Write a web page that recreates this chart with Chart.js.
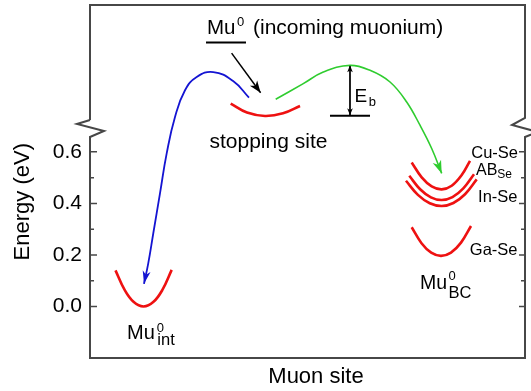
<!DOCTYPE html>
<html>
<head>
<meta charset="utf-8">
<script src="https://cdn.jsdelivr.net/npm/chart.js@4.4.1/dist/chart.umd.min.js"></script>
<style>
  html, body { margin: 0; padding: 0; background: #fff; }
</style>
</head>
<body>
<canvas id="chart" width="531" height="391"></canvas>
<script>
// schematic energy landscape: x = muon site coordinate (arbitrary, 0-100), y = energy (eV)
const FONT = 'Arial, "Liberation Sans", sans-serif';

const yMajorTicks = [0.0, 0.2, 0.4, 0.6];
const yMajorLabels = ['0.0', '0.2', '0.4', '0.6'];
const yMinorTicks = [0.1, 0.3, 0.5];

// red potential wells
const wellIntX = [5.86, 7.93, 10.0, 12.30, 14.6, 16.67, 18.78];
const wellIntE = [0.140, 0.065, 0.018, 0.0, 0.018, 0.065, 0.142];

const wellStopX = [32.34, 36.09, 40.23, 44.37, 48.28];
const wellStopE = [0.7875, 0.7526, 0.7394, 0.7495, 0.7782];

const wellCuX = [73.95, 76.25, 78.55, 80.85, 83.15, 85.45, 87.36];
const wellCuE = [0.5590, 0.5010, 0.4661, 0.4545, 0.4685, 0.5099, 0.5652];

const wellABX = [73.40, 75.89, 78.37, 80.85, 83.33, 85.82, 88.28];
const wellABE = [0.5072, 0.4549, 0.4235, 0.4131, 0.4243, 0.4580, 0.5132];

const wellInX = [72.64, 75.38, 78.11, 80.85, 83.54, 86.21, 88.90];
const wellInE = [0.4878, 0.4332, 0.4007, 0.3899, 0.4015, 0.4355, 0.4932];

const wellGaX = [73.95, 76.21, 78.44, 80.69, 82.99, 85.29, 87.59];
const wellGaE = [0.3074, 0.2455, 0.2087, 0.1963, 0.2091, 0.2478, 0.3124];

// blue path: stopping site -> interstitial
const pathIntX = [36.55, 32.90, 28.34, 24.53, 21.84, 19.54, 17.63, 16.09, 14.55, 13.40, 12.41];
const pathIntE = [0.8107, 0.8750, 0.9098, 0.8904, 0.8390, 0.7356, 0.5939, 0.4390, 0.2842, 0.1680, 0.0879];

// green path: stopping site -> bond centre
const pathBCX = [42.69, 49.03, 53.63, 59.77, 64.37, 68.97, 72.80, 75.86, 78.55, 80.85];
const pathBCE = [0.8041, 0.8649, 0.9098, 0.9357, 0.9164, 0.8711, 0.7937, 0.7034, 0.6132, 0.5165];

// incoming muonium level and arrow
const muLevelX = [26.67, 35.86];
const muLevelE = [1.0248, 1.0248];
const muArrowX = [32.55, 39.22];
const muArrowE = [0.9834, 0.8293];

// barrier E_b
const ebLevelX = [55.17, 64.37];
const ebLevelE = [0.7402, 0.7402];
const ebArrowX = [59.77, 59.77];
const ebArrowE = [0.9357, 0.7422];

function pts(xs, ys) {
    return xs.map((x, i) => ({ x: x, y: ys[i] }));
}

const RED = '#ee1111';
const BLUE = '#1414d2';
const GREEN = '#2fcc2f';

function curve(xs, ys, color, width, tension) {
    return {
        data: pts(xs, ys),
        showLine: true,
        borderColor: color,
        borderWidth: width,
        tension: tension,
        pointRadius: 0,
        fill: false
    };
}

const datasets = [
    curve(wellIntX, wellIntE, RED, 2.6, 0.4),
    curve(wellStopX, wellStopE, RED, 2.6, 0.4),
    curve(wellCuX, wellCuE, RED, 2.6, 0.4),
    curve(wellABX, wellABE, RED, 2.6, 0.4),
    curve(wellInX, wellInE, RED, 2.6, 0.4),
    curve(wellGaX, wellGaE, RED, 2.6, 0.4),
    curve(pathIntX, pathIntE, BLUE, 1.8, 0.45),
    curve(pathBCX, pathBCE, GREEN, 1.6, 0.4),
    curve(muLevelX, muLevelE, '#000', 2, 0),
    curve(muArrowX, muArrowE, '#000', 1.5, 0),
    curve(ebLevelX, ebLevelE, '#000', 2, 0),
    curve(ebArrowX, ebArrowE, '#000', 1, 0)
];

function arrowHead(ctx, x0, y0, x1, y1, len, half, color) {
    const a = Math.atan2(y1 - y0, x1 - x0);
    ctx.save();
    ctx.translate(x1, y1);
    ctx.rotate(a);
    ctx.beginPath();
    ctx.moveTo(0, 0);
    ctx.lineTo(-len, -half);
    ctx.lineTo(-len * 0.72, 0);
    ctx.lineTo(-len, half);
    ctx.closePath();
    ctx.fillStyle = color;
    ctx.fill();
    ctx.restore();
}

function txt(ctx, s, x, y, size, align) {
    ctx.font = size + 'px ' + FONT;
    ctx.textAlign = align || 'left';
    ctx.textBaseline = 'alphabetic';
    ctx.fillText(s, x, y);
    return ctx.measureText(s).width;
}

const decorations = {
    id: 'decorations',
    afterDatasetsDraw(chart) {
        const ctx = chart.ctx;
        const xs = chart.scales.x, ys = chart.scales.y;
        const px = v => xs.getPixelForValue(v);
        const py = v => ys.getPixelForValue(v);
        const tip = (X, E, i, j) => [px(X[i]), py(E[i]), px(X[j]), py(E[j])];

        let n = pathIntX.length;
        arrowHead(ctx, ...tip(pathIntX, pathIntE, n - 2, n - 1), 13, 4, BLUE);
        n = pathBCX.length;
        arrowHead(ctx, ...tip(pathBCX, pathBCE, n - 2, n - 1), 13, 4.5, GREEN);
        arrowHead(ctx, ...tip(muArrowX, muArrowE, 0, 1), 12, 4.5, '#000');
        arrowHead(ctx, ...tip(ebArrowX, ebArrowE, 0, 1), 7, 2.8, '#000');
        arrowHead(ctx, ...tip(ebArrowX, ebArrowE, 1, 0), 7, 2.8, '#000');
    },
    afterDraw(chart) {
        const ctx = chart.ctx;
        const a = chart.chartArea;
        const ys = chart.scales.y;
        const L = a.left, R = a.right, T = a.top, B = a.bottom;

        // frame with axis breaks
        ctx.save();
        ctx.strokeStyle = '#474747';
        ctx.lineWidth = 2;
        ctx.lineJoin = 'miter';
        ctx.beginPath();
        ctx.moveTo(L, 120);
        ctx.lineTo(L, T);
        ctx.lineTo(R, T);
        ctx.lineTo(R, 118);
        ctx.lineTo(R - 13, 125);
        ctx.lineTo(R + 13, 132);
        ctx.lineTo(R, 137);
        ctx.lineTo(R, B);
        ctx.lineTo(L, B);
        ctx.lineTo(L, 137);
        ctx.lineTo(L + 14, 131);
        ctx.lineTo(L - 13, 124);
        ctx.lineTo(L, 120);
        ctx.stroke();

        // inward ticks on both sides
        ctx.lineWidth = 1.5;
        ctx.beginPath();
        yMajorTicks.forEach(v => {
            const y = ys.getPixelForValue(v);
            ctx.moveTo(L, y); ctx.lineTo(L + 7, y);
            ctx.moveTo(R, y); ctx.lineTo(R - 6, y);
        });
        yMinorTicks.forEach(v => {
            const y = ys.getPixelForValue(v);
            ctx.moveTo(L, y); ctx.lineTo(L + 4, y);
            ctx.moveTo(R, y); ctx.lineTo(R - 4, y);
        });
        ctx.stroke();

        // texts
        ctx.fillStyle = '#000';
        let w = txt(ctx, 'Mu', 207, 33.5, 20.5);
        txt(ctx, '0', 207 + w + 1.5, 25.5, 13);
        txt(ctx, '(incoming muonium)', 253, 33.5, 21);

        txt(ctx, 'stopping site', 209.5, 147.5, 21);

        w = txt(ctx, 'E', 354.5, 101.7, 19);
        txt(ctx, 'b', 354.5 + w + 1.5, 106, 13);

        txt(ctx, 'Cu-Se', 518, 158.3, 16.5, 'right');
        const wSe = txt(ctx, 'Se', 512, 178, 12, 'right');
        txt(ctx, 'AB', 512 - wSe, 175, 16, 'right');
        txt(ctx, 'In-Se', 517.5, 201.7, 16.5, 'right');
        txt(ctx, 'Ga-Se', 517.5, 255, 16.5, 'right');

        w = txt(ctx, 'Mu', 420, 289.3, 19.5);
        txt(ctx, '0', 420 + w + 1.5, 280, 13);
        txt(ctx, 'BC', 420 + w + 1.5, 298.3, 16.5);

        w = txt(ctx, 'Mu', 127, 339, 20);
        txt(ctx, '0', 127 + w + 2, 331.5, 13);
        txt(ctx, 'int', 127 + w + 2.5, 345, 16.5);

        // axis titles
        txt(ctx, 'Muon site', 316, 383, 22, 'center');
        ctx.save();
        ctx.translate(29, 201.7);
        ctx.rotate(-Math.PI / 2);
        txt(ctx, 'Energy (eV)', 0, 0, 22, 'center');
        ctx.restore();
        ctx.restore();
    }
};

new Chart(document.getElementById('chart'), {
    type: 'scatter',
    data: { datasets: datasets },
    options: {
        responsive: false,
        animation: false,
        layout: { padding: { top: 5, right: 6, bottom: 33, left: 0 } },
        plugins: {
            legend: { display: false },
            tooltip: { enabled: false }
        },
        scales: {
            x: { type: 'linear', min: 0, max: 100, display: false },
            y: {
                type: 'linear',
                min: -0.2,
                max: 1.17,
                afterBuildTicks: s => { s.ticks = yMajorTicks.map(v => ({ value: v })); },
                afterFit: s => { s.width = 90; s.paddingTop = 0; s.paddingBottom = 0; },
                grid: { display: false, drawTicks: false },
                border: { display: false },
                ticks: {
                    padding: 8,
                    color: '#000',
                    font: { family: FONT, size: 21 },
                    callback: v => yMajorLabels[yMajorTicks.indexOf(v)]
                }
            }
        }
    },
    plugins: [decorations]
});
</script>
</body>
</html>
